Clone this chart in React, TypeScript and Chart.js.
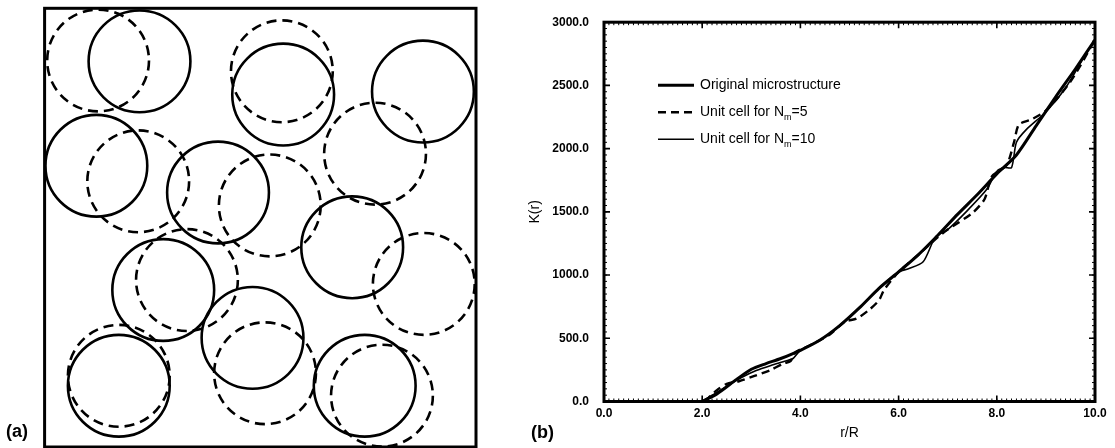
import React, { useEffect, useRef } from "react";
import { Chart, registerables } from "chart.js";

Chart.register(...registerables);

const FONT = "'Liberation Sans', Arial, Helvetica, sans-serif";

// ---------- Panel (a): circle centres (box units 0..10 x 0..10.17) ----------
const CIRCLE_RADIUS = 1.18;
const BOX_W = 10;
const BOX_H = 10.17;
const solidX = [2.2, 5.53, 8.77, 1.2, 4.02, 7.13, 2.75, 4.82, 1.72, 7.42];
const solidY = [8.94, 8.17, 8.24, 6.52, 5.9, 4.63, 3.64, 2.53, 1.42, 1.42];
const dashedX = [1.24, 5.5, 2.17, 7.66, 5.22, 3.3, 8.79, 5.11, 1.72, 7.82];
const dashedY = [8.96, 8.71, 6.16, 6.8, 5.6, 3.87, 3.78, 1.71, 1.65, 1.19];

// ---------- Panel (b): K(r) curves ----------
const origX = [2.0, 2.3, 2.7, 3.0, 3.3, 3.6, 4.0, 4.4, 4.8, 5.2, 5.6, 6.0, 6.4, 6.8, 7.2, 7.6, 8.0, 8.4, 8.8, 9.2, 9.6, 10.0];
const origY = [0, 60, 175, 255, 300, 340, 405, 486, 600, 740, 895, 1025, 1160, 1315, 1480, 1635, 1800, 1950, 2180, 2410, 2630, 2860];

const nm5X = [2.05, 2.3, 2.5, 2.75, 3.05, 3.4, 3.65, 3.8, 3.9, 4.2, 4.6, 4.9, 5.15, 5.4, 5.6, 5.7, 6.0, 6.4, 6.8, 7.0, 7.5, 7.75, 7.9, 8.2, 8.35, 8.45, 8.7, 9.0, 9.5, 10.0];
const nm5Y = [0, 90, 140, 160, 200, 250, 300, 320, 390, 445, 530, 630, 657, 725, 800, 880, 1025, 1160, 1300, 1360, 1490, 1600, 1780, 1870, 2050, 2190, 2230, 2300, 2530, 2860];

const nm10X = [2.0, 2.2, 2.5, 2.8, 3.1, 3.4, 3.7, 3.85, 4.0, 4.4, 4.8, 5.2, 5.6, 6.0, 6.2, 6.5, 6.75, 7.0, 7.4, 7.8, 8.0, 8.15, 8.3, 8.4, 8.6, 9.0, 9.4, 9.8, 10.0];
const nm10Y = [0, 50, 120, 190, 245, 285, 320, 340, 405, 486, 600, 740, 895, 1025, 1050, 1105, 1300, 1360, 1510, 1680, 1820, 1850, 1850, 2050, 2150, 2290, 2480, 2740, 2860];

const legendMain = ["Original microstructure", "Unit cell for N", "Unit cell for N"];
const legendSub = ["", "m", "m"];
const legendTail = ["", "=5", "=10"];

const X_MIN = 0, X_MAX = 10, X_STEP = 2;
const Y_MIN = 0, Y_MAX = 3000, Y_STEP = 500;

const pts = (xs: number[], ys: number[]) => xs.map((x, i) => ({ x, y: ys[i] }));

const framePlugin = (lw: number) => ({
  id: "frame" + lw,
  afterDraw(chart: any) {
    const { ctx, chartArea: a } = chart;
    ctx.save();
    ctx.strokeStyle = "#000";
    ctx.lineWidth = lw;
    ctx.setLineDash([]);
    ctx.strokeRect(a.left, a.top, a.right - a.left, a.bottom - a.top);
    ctx.restore();
  },
});

const circleDashPlugin = {
  id: "circleDash",
  beforeDatasetDraw(chart: any, args: any) {
    const ds = chart.data.datasets[args.index];
    chart.ctx.save();
    chart.ctx.setLineDash(ds.circleDash || []);
  },
  afterDatasetDraw(chart: any) {
    chart.ctx.restore();
  },
};

const tickPlugin = {
  id: "inwardTicks",
  afterDraw(chart: any) {
    const { ctx, chartArea: a, scales } = chart;
    const xs = scales.x, ys = scales.y;
    ctx.save();
    ctx.strokeStyle = "#000";
    ctx.setLineDash([]);
    // minor ticks
    ctx.lineWidth = 1;
    ctx.beginPath();
    for (let v = X_MIN; v <= X_MAX + 1e-9; v += 0.1) {
      const p = xs.getPixelForValue(v);
      ctx.moveTo(p, a.bottom); ctx.lineTo(p, a.bottom - 3);
      ctx.moveTo(p, a.top); ctx.lineTo(p, a.top + 3);
    }
    for (let v = Y_MIN; v <= Y_MAX + 1e-9; v += 50) {
      const p = ys.getPixelForValue(v);
      ctx.moveTo(a.left, p); ctx.lineTo(a.left + 3, p);
      ctx.moveTo(a.right, p); ctx.lineTo(a.right - 3, p);
    }
    ctx.stroke();
    // major ticks
    ctx.lineWidth = 1.6;
    ctx.beginPath();
    xs.ticks.forEach((t: any) => {
      const p = xs.getPixelForValue(t.value);
      ctx.moveTo(p, a.bottom); ctx.lineTo(p, a.bottom - 6);
      ctx.moveTo(p, a.top); ctx.lineTo(p, a.top + 6);
    });
    ys.ticks.forEach((t: any) => {
      const p = ys.getPixelForValue(t.value);
      ctx.moveTo(a.left, p); ctx.lineTo(a.left + 6, p);
      ctx.moveTo(a.right, p); ctx.lineTo(a.right - 6, p);
    });
    ctx.stroke();
    ctx.restore();
  },
};

const legendPlugin = {
  id: "innerLegend",
  afterDraw(chart: any) {
    const { ctx, chartArea: a } = chart;
    ctx.save();
    chart.data.datasets.forEach((ds: any, i: number) => {
      const y = a.top + 63 + i * 27;
      const x0 = a.left + 54;
      ctx.strokeStyle = "#000";
      ctx.lineWidth = ds.borderWidth;
      ctx.setLineDash(ds.borderDash || []);
      ctx.beginPath();
      ctx.moveTo(x0, y);
      ctx.lineTo(x0 + 36, y);
      ctx.stroke();
      ctx.setLineDash([]);
      ctx.fillStyle = "#000";
      ctx.textBaseline = "middle";
      ctx.textAlign = "left";
      let tx = x0 + 42;
      ctx.font = `14px ${FONT}`;
      ctx.fillText(legendMain[i], tx, y);
      tx += ctx.measureText(legendMain[i]).width;
      if (legendSub[i]) {
        ctx.font = `9px ${FONT}`;
        ctx.fillText(legendSub[i], tx, y + 5);
        tx += ctx.measureText(legendSub[i]).width;
      }
      if (legendTail[i]) {
        ctx.font = `14px ${FONT}`;
        ctx.fillText(legendTail[i], tx, y);
      }
    });
    ctx.restore();
  },
};

function PanelA() {
  const ref = useRef<HTMLCanvasElement>(null);
  useEffect(() => {
    const radius = (c: any) => {
      const s = c.chart.scales.x;
      return Math.abs(s.getPixelForValue(CIRCLE_RADIUS) - s.getPixelForValue(0));
    };
    const chart = new Chart(ref.current as HTMLCanvasElement, {
      type: "scatter",
      data: {
        datasets: [
          {
            label: "solid",
            data: pts(solidX, solidY),
            borderColor: "#000",
            backgroundColor: "rgba(0,0,0,0)",
            pointRadius: radius,
            pointBorderWidth: 2.6,
            clip: 0,
          } as any,
          {
            label: "dashed",
            data: pts(dashedX, dashedY),
            borderColor: "#000",
            backgroundColor: "rgba(0,0,0,0)",
            pointRadius: radius,
            pointBorderWidth: 2.6,
            clip: 0,
            circleDash: [10, 6],
          } as any,
        ],
      },
      options: {
        responsive: false,
        animation: false,
        events: [],
        layout: { padding: { left: 44.6, right: 14, top: 8.3, bottom: 1 } },
        scales: {
          x: { type: "linear", display: false, min: 0, max: BOX_W },
          y: { type: "linear", display: false, min: 0, max: BOX_H },
        },
        plugins: { legend: { display: false }, tooltip: { enabled: false } },
      },
      plugins: [circleDashPlugin, framePlugin(3)],
    });
    return () => chart.destroy();
  }, []);
  return (
    <canvas
      ref={ref}
      width={490}
      height={448}
      style={{ position: "absolute", left: 0, top: 0, width: 490, height: 448 }}
    />
  );
}

function PanelB() {
  const ref = useRef<HTMLCanvasElement>(null);
  useEffect(() => {
    const tickFont = { family: FONT, size: 12, weight: "bold" as const };
    const chart = new Chart(ref.current as HTMLCanvasElement, {
      type: "line",
      data: {
        datasets: [
          { label: "Original microstructure", data: pts(origX, origY), borderColor: "#000", borderWidth: 3, pointRadius: 0, tension: 0.25, fill: false },
          { label: "Unit cell for Nm=5", data: pts(nm5X, nm5Y), borderColor: "#000", borderWidth: 2.4, borderDash: [8, 5], pointRadius: 0, tension: 0.25, fill: false },
          { label: "Unit cell for Nm=10", data: pts(nm10X, nm10Y), borderColor: "#000", borderWidth: 1.6, pointRadius: 0, tension: 0.25, fill: false },
        ],
      },
      options: {
        responsive: false,
        animation: false,
        events: [],
        layout: { padding: { top: 21, right: 20, left: 0, bottom: 0 } },
        scales: {
          x: {
            type: "linear",
            min: X_MIN,
            max: X_MAX,
            grid: { display: false, drawTicks: false },
            border: { display: false },
            ticks: {
              stepSize: X_STEP,
              autoSkip: false,
              maxRotation: 0,
              padding: 5,
              color: "#000",
              font: tickFont,
              callback: (v: any) => Number(v).toFixed(1),
            },
            title: { display: true, text: "r/R", color: "#000", font: { family: FONT, size: 14 }, padding: { top: 0, bottom: 6.6 } },
            afterFit: (s: any) => { s.height = 46.5; },
          },
          y: {
            type: "linear",
            min: Y_MIN,
            max: Y_MAX,
            grid: { display: false, drawTicks: false },
            border: { display: false },
            ticks: {
              stepSize: Y_STEP,
              padding: 15,
              color: "#000",
              font: tickFont,
              callback: (v: any) => Number(v).toFixed(1),
            },
            title: { display: true, text: "K(r)", color: "#000", font: { family: FONT, size: 14 }, padding: { top: 36.6, bottom: 0 } },
            afterFit: (s: any) => { s.width = 114; },
          },
        },
        plugins: { legend: { display: false }, tooltip: { enabled: false } },
      },
      plugins: [tickPlugin, framePlugin(3), legendPlugin],
    });
    return () => chart.destroy();
  }, []);
  return (
    <canvas
      ref={ref}
      width={625}
      height={448}
      style={{ position: "absolute", left: 490, top: 0, width: 625, height: 448 }}
    />
  );
}

const labelStyle: React.CSSProperties = {
  position: "absolute",
  fontFamily: FONT,
  fontWeight: "bold",
  fontSize: 18,
  lineHeight: "20px",
  color: "#000",
};

export default function App() {
  return (
    <div style={{ position: "absolute", left: 0, top: 0, width: 1115, height: 448, background: "#fff", overflow: "hidden" }}>
      <PanelA />
      <PanelB />
      <div style={{ ...labelStyle, left: 6, top: 421 }}>(a)</div>
      <div style={{ ...labelStyle, left: 531, top: 422 }}>(b)</div>
    </div>
  );
}
